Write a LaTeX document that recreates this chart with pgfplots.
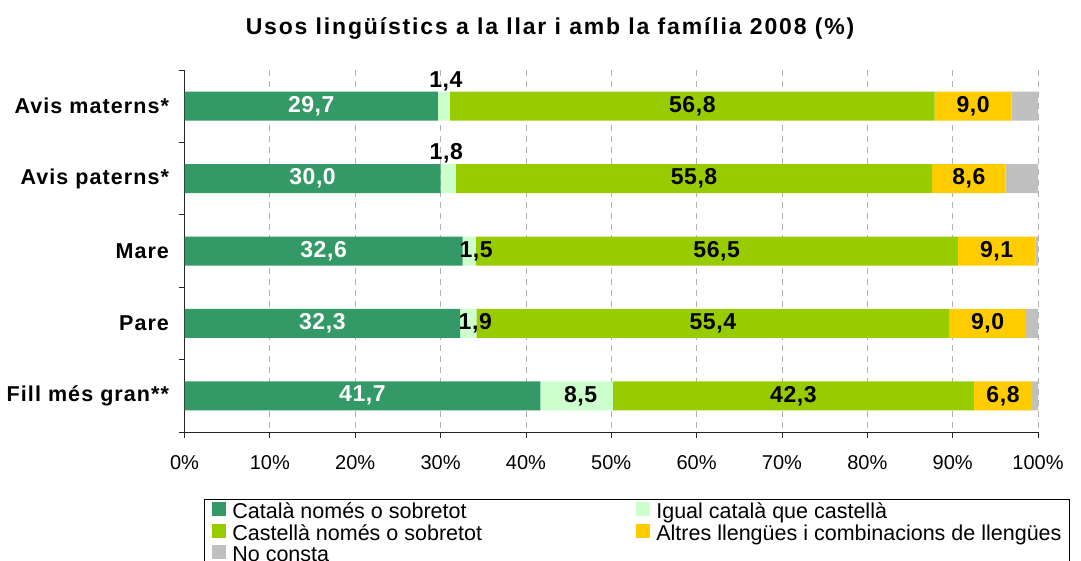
\documentclass[border=0pt]{standalone}
\usepackage{pgfplots}
\pgfplotsset{compat=1.18}
\usepackage{pgfplotstable}
\usepackage{fontspec}
\setmainfont{Liberation Sans}
\newfontfamily\lsfont[LetterSpace=5]{Liberation Sans}
\newfontfamily\lswfont[LetterSpace=8]{Liberation Sans}
\newfontfamily\lsnfont[LetterSpace=2.5]{Liberation Sans}
\definecolor{cA}{RGB}{51,153,102}
\definecolor{cB}{RGB}{204,255,204}
\definecolor{cC}{RGB}{153,204,0}
\definecolor{cD}{RGB}{255,204,0}
\definecolor{cE}{RGB}{192,192,192}

\pgfplotstableread{
cat a b c d e bdx bdy
0 29.7 1.4 56.8 9.0 3.1 2 25
1 30.0 1.8 55.8 8.6 3.8 -2 25
2 32.6 1.5 56.5 9.1 0.3 7 0
3 32.3 1.9 55.4 9.0 1.4 7 0
4 41.7 8.5 42.3 6.8 0.7 4 0
}\data

\newcommand{\lbl}{\pgfmathprintnumber[use comma,fixed,fixed zerofill,precision=1,assume math mode=true]{\pgfplotspointmeta}}

\begin{document}
\begin{tikzpicture}
\path[use as bounding box] (0,0) rectangle (1081pt,-561pt);
\clip (0,0) rectangle (1081pt,-561pt);
\node[font=\lswfont\bfseries\fontsize{23}{27}\selectfont] at (550pt,-29pt) {Usos lingüístics a la llar i amb la família 2008 (\%)};
\begin{axis}[
  at={(184.5pt,-432pt)}, anchor=south west,
  scale only axis, width=853.5pt, height=362pt,
  xbar stacked, bar width=29pt,
  xmin=0, xmax=100, ymin=-0.5, ymax=4.5, y dir=reverse,
  axis x line=bottom, axis y line=left,
  axis line style={-, black!85, line width=0.8pt},
  xtick={0,10,...,100},
  xticklabel={\pgfmathprintnumber{\tick}\%},
  xticklabel style={font=\fontsize{20}{24}\selectfont, yshift=-14pt},
  /pgf/number format/assume math mode=true,
  x tick style={black!85, line width=0.8pt},
  xmajorgrids,
  major grid style={black!30, line width=0.8pt, dash pattern=on 6pt off 5pt},
  tick align=outside, major tick length=6pt,
  ytick={0,1,2,3,4},
  yticklabels={Avis materns*, Avis paterns*, Mare, Pare, Fill més gran**},
  y tick style={draw=none},
  yticklabel style={font=\lsfont\bfseries\fontsize{21.5}{24}\selectfont, xshift=-6pt},
  extra y ticks={-0.5,0.5,1.5,2.5,3.5,4.5},
  extra y tick labels={},
  extra y tick style={y tick style={draw=black!85, line width=0.8pt}, major tick length=6pt},
  legend columns=2,
  legend style={at={(axis description cs:0.0228,-0.185)}, anchor=north west,
    draw=black, line width=0.8pt, font=\fontsize{21.5}{24}\selectfont,
    inner xsep=8pt, inner ysep=3pt, /tikz/column sep=6pt, row sep=0pt,
    nodes={inner sep=0pt, text height=12pt, text depth=5pt}},
  legend cell align=left,
  legend image code/.code={\fill[#1] (0pt,-1pt) rectangle (14pt,13pt);},
  every node near coord/.append style={font=\lsnfont\bfseries\fontsize{23}{26}\selectfont},
]
\addplot[fill=cA, draw=none, nodes near coords=\lbl,
  every node near coord/.append style={anchor=center, text=white}]
  table[x=a, y=cat]{\data};
\addlegendentry{\makebox[398pt][l]{Català només o sobretot}}
\addplot[fill=cB, draw=none, nodes near coords=\lbl,
  visualization depends on={\thisrow{bdx} \as \bdx},
  visualization depends on={\thisrow{bdy} \as \bdy},
  every node near coord/.append style={anchor=center, text=black, xshift={\bdx}, yshift={\bdy}}]
  table[x=b, y=cat]{\data};
\addlegendentry{Igual català que castellà}
\addplot[fill=cC, draw=none, nodes near coords=\lbl,
  every node near coord/.append style={anchor=center, text=black}]
  table[x=c, y=cat]{\data};
\addlegendentry{\makebox[398pt][l]{Castellà només o sobretot}}
\addplot[fill=cD, draw=none, nodes near coords=\lbl,
  every node near coord/.append style={anchor=center, text=black}]
  table[x=d, y=cat]{\data};
\addlegendentry{Altres llengües i combinacions de llengües}
\addplot[fill=cE, draw=none]
  table[x=e, y=cat]{\data};
\addlegendentry{No consta}
\end{axis}
\end{tikzpicture}
\end{document}
